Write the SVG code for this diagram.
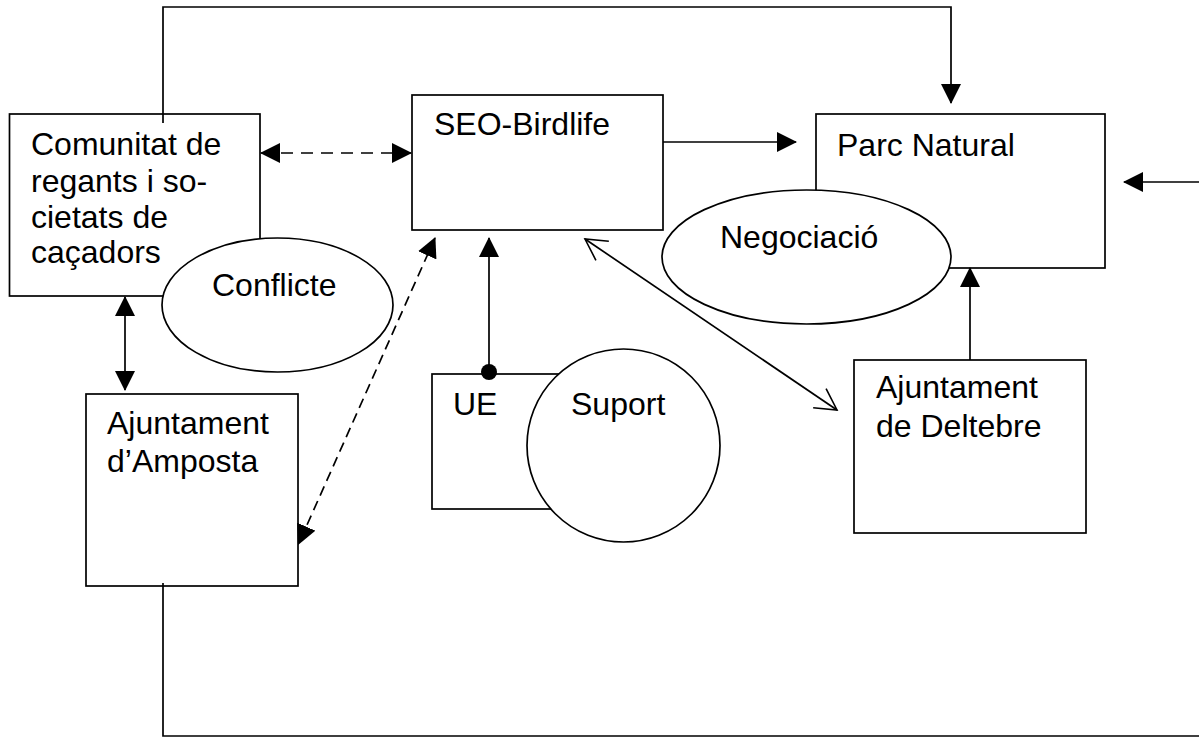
<svg xmlns="http://www.w3.org/2000/svg" width="1199" height="738" viewBox="0 0 1199 738">
<style>
  .box { fill: #ffffff; stroke: #000000; stroke-width: 1.7; }
  .ell { fill: #ffffff; stroke: #000000; stroke-width: 1.7; }
  .lbl { font-family: "Liberation Sans", Arial, sans-serif; font-size: 32px; fill: #000000; }
  .ln { fill: none; stroke: #000000; stroke-width: 1.7; }
  .dash1 { stroke-dasharray: 12 8; }
  .dash2 { stroke-dasharray: 10 6; }
</style>
<defs>
  <marker id="tri" markerUnits="userSpaceOnUse" viewBox="0 0 20 20" refX="19" refY="10" markerWidth="20" markerHeight="20" orient="auto-start-reverse">
    <path d="M0,0 L20,10 L0,20 Z" fill="#000000"/>
  </marker>
  <marker id="open" markerUnits="userSpaceOnUse" viewBox="-24 -14 26 28" refX="0" refY="0" markerWidth="26" markerHeight="28" orient="auto-start-reverse" overflow="visible">
    <path d="M-21,-11.5 L0,0 L-21,11.5" fill="none" stroke="#000000" stroke-width="1.6"/>
  </marker>
</defs>

<g id="node-comunitat">
  <rect class="box" x="9.5" y="114" width="250.5" height="182"/>
  <text class="lbl" x="31" y="155">Comunitat de</text>
  <text class="lbl" x="31" y="192">regants i so-</text>
  <text class="lbl" x="31" y="228">cietats de</text>
  <text class="lbl" x="31" y="263">caçadors</text>
</g>
<g id="node-conflicte">
  <ellipse class="ell" cx="277.5" cy="305" rx="115.5" ry="67"/>
  <text class="lbl" x="212" y="296">Conflicte</text>
</g>
<g id="node-seo">
  <rect class="box" x="412" y="95" width="251" height="135"/>
  <text class="lbl" x="434" y="135">SEO-Birdlife</text>
</g>
<g id="node-parc">
  <rect class="box" x="816" y="114" width="289" height="154"/>
  <text class="lbl" x="837" y="156">Parc Natural</text>
</g>
<g id="node-negociacio">
  <ellipse class="ell" cx="806.5" cy="257" rx="144.5" ry="67"/>
  <text class="lbl" x="720" y="248">Negociació</text>
</g>
<g id="node-amposta">
  <rect class="box" x="86" y="394" width="212" height="192"/>
  <text class="lbl" x="107" y="434">Ajuntament</text>
  <text class="lbl" x="107" y="472">d’Amposta</text>
</g>
<g id="node-ue">
  <rect class="box" x="432" y="374" width="170" height="135"/>
  <text class="lbl" x="453" y="415">UE</text>
</g>
<g id="node-suport">
  <circle class="ell" cx="623.5" cy="445.5" r="96.5"/>
  <text class="lbl" x="571" y="415">Suport</text>
</g>
<g id="node-deltebre">
  <rect class="box" x="854" y="360" width="232" height="173"/>
  <text class="lbl" x="876" y="398">Ajuntament</text>
  <text class="lbl" x="876" y="437">de Deltebre</text>
</g>

<g id="connectors">
  <polyline class="ln" points="163,123 163,7 951,7 951,103" marker-end="url(#tri)"/>
  <line class="ln dash1" x1="261" y1="153" x2="411" y2="153" marker-start="url(#tri)" marker-end="url(#tri)"/>
  <line class="ln" x1="663" y1="142" x2="796" y2="142" marker-end="url(#tri)"/>
  <line class="ln" x1="1199" y1="182" x2="1124" y2="182" marker-end="url(#tri)"/>
  <line class="ln" x1="125" y1="297" x2="125" y2="390" marker-start="url(#tri)" marker-end="url(#tri)"/>
  <line class="ln dash2" x1="435" y1="238" x2="298.5" y2="544" marker-start="url(#tri)" marker-end="url(#tri)"/>
  <line class="ln" x1="489" y1="372" x2="489" y2="238" marker-end="url(#tri)"/>
  <circle cx="489" cy="372" r="8" fill="#000000"/>
  <line class="ln" x1="585" y1="239" x2="837" y2="410" marker-start="url(#open)" marker-end="url(#open)"/>
  <line class="ln" x1="970" y1="360" x2="970" y2="268" marker-end="url(#tri)"/>
  <polyline class="ln" points="163,583 163,736 1199,736"/>
</g>
</svg>
